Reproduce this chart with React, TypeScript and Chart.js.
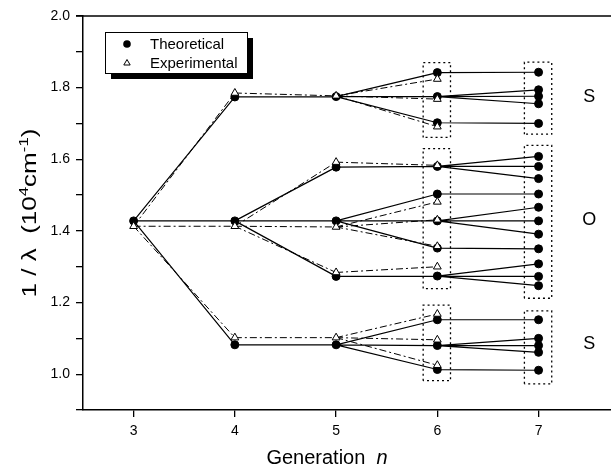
import React, { useEffect, useRef } from 'react';
import { Chart, registerables } from 'chart.js';
Chart.register(...registerables);

// ---- data ----
const xTickValues = [3, 4, 5, 6, 7];
const yTickValues = [0.9, 1.0, 1.1, 1.2, 1.3, 1.4, 1.5, 1.6, 1.7, 1.8, 1.9, 2.0];
const yLabelValues = [1.0, 1.2, 1.4, 1.6, 1.8, 2.0];

// Theoretical levels per generation and parent index in previous generation
const theo3 = [1.428];
const theo4 = [1.774, 1.428, 1.082];
const theo4Parent = [0, 0, 0];
const theo5 = [1.775, 1.578, 1.428, 1.273, 1.082];
const theo5Parent = [0, 1, 1, 1, 2];
const theo6 = [1.842, 1.775, 1.702, 1.580, 1.503, 1.428, 1.352, 1.274, 1.152, 1.080, 1.013];
const theo6Parent = [0, 0, 0, 1, 2, 2, 2, 3, 4, 4, 4];
const theo7 = [1.843, 1.794, 1.776, 1.755, 1.700, 1.608, 1.580, 1.546, 1.503, 1.466, 1.428, 1.391, 1.350, 1.308, 1.273, 1.247, 1.152, 1.100, 1.080, 1.061, 1.011];
const theo7Parent = [0, 1, 1, 1, 2, 3, 3, 3, 4, 5, 5, 5, 6, 7, 7, 7, 8, 9, 9, 9, 10];

// Experimental levels
const exp3 = [1.413];
const exp4 = [1.785, 1.413, 1.102];
const exp4Parent = [0, 0, 0];
const exp5 = [1.777, 1.592, 1.411, 1.284, 1.102];
const exp5Parent = [0, 1, 1, 1, 2];
const exp6 = [1.824, 1.768, 1.691, 1.583, 1.481, 1.431, 1.357, 1.300, 1.168, 1.096, 1.025];
const exp6Parent = [0, 0, 0, 1, 2, 2, 2, 3, 4, 4, 4];

// Dotted grouping boxes
const boxXMin = [5.86, 5.86, 5.86, 6.86, 6.86, 6.86];
const boxXMax = [6.13, 6.13, 6.13, 7.13, 7.13, 7.13];
const boxYMax = [1.870, 1.630, 1.193, 1.871, 1.639, 1.177];
const boxYMin = [1.661, 1.239, 0.982, 1.670, 1.212, 0.973];

// Group labels
const groupLabels = ['S', 'O', 'S'];
const groupLabelX = [7.5, 7.5, 7.5];
const groupLabelY = [1.775, 1.43, 1.083];

const legendLabels = ['Theoretical', 'Experimental'];

const FONT = "'Liberation Sans', Arial, Helvetica, sans-serif";

type P = { x: number; y: number | null };

function edges(xFrom: number, from: number[], xTo: number, to: number[], parents: number[]): P[] {
  const pts: P[] = [];
  to.forEach((v, i) => {
    pts.push({ x: xFrom, y: from[parents[i]] }, { x: xTo, y: v }, { x: xTo, y: null });
  });
  return pts;
}

function nodes(levels: number[][], xs: number[]): P[] {
  const pts: P[] = [];
  levels.forEach((arr, k) => arr.forEach((v) => pts.push({ x: xs[k], y: v })));
  return pts;
}

function boxes(): P[] {
  const pts: P[] = [];
  boxXMin.forEach((x0, i) => {
    const x1 = boxXMax[i];
    const y0 = boxYMin[i];
    const y1 = boxYMax[i];
    pts.push({ x: x0, y: y0 }, { x: x0, y: y1 }, { x: x1, y: y1 }, { x: x1, y: y0 }, { x: x0, y: y0 }, { x: x1, y: null });
  });
  return pts;
}

const decorPlugin = {
  id: 'decor',
  afterDraw(chart: any) {
    const ctx = chart.ctx as CanvasRenderingContext2D;
    const ca = chart.chartArea;
    const xs = chart.scales.x;
    const ys = chart.scales.y;
    ctx.save();
    // top frame line
    ctx.strokeStyle = '#000';
    ctx.lineWidth = 1.5;
    ctx.beginPath();
    ctx.moveTo(ca.left - 7, ca.top);
    ctx.lineTo(ca.right + 10, ca.top);
    ctx.stroke();

    // group labels
    ctx.fillStyle = '#000';
    ctx.font = `18px ${FONT}`;
    ctx.textAlign = 'center';
    ctx.textBaseline = 'middle';
    groupLabels.forEach((t, i) => {
      ctx.fillText(t, xs.getPixelForValue(groupLabelX[i]), ys.getPixelForValue(groupLabelY[i]));
    });

    // legend
    const lx = ca.left + 22;
    const ly = ca.top + 16;
    const lw = 142;
    const lh = 41;
    ctx.fillStyle = '#000';
    ctx.fillRect(lx + 6, ly + 6, lw, lh);
    ctx.fillStyle = '#fff';
    ctx.fillRect(lx, ly, lw, lh);
    ctx.strokeStyle = '#000';
    ctx.lineWidth = 1;
    ctx.strokeRect(lx + 0.5, ly + 0.5, lw, lh);
    const mx = lx + 22;
    const r1 = ly + 12;
    const r2 = ly + 31;
    ctx.fillStyle = '#000';
    ctx.beginPath();
    ctx.arc(mx, r1, 3.8, 0, Math.PI * 2);
    ctx.fill();
    ctx.beginPath();
    ctx.moveTo(mx, r2 - 3.5);
    ctx.lineTo(mx + 3.2, r2 + 2);
    ctx.lineTo(mx - 3.2, r2 + 2);
    ctx.closePath();
    ctx.lineWidth = 1;
    ctx.stroke();
    ctx.fillStyle = '#000';
    ctx.font = `15px ${FONT}`;
    ctx.textAlign = 'left';
    ctx.textBaseline = 'middle';
    ctx.fillText(legendLabels[0], lx + 45, r1 + 1);
    ctx.fillText(legendLabels[1], lx + 45, r2 + 1);

    // x title
    ctx.font = `20px ${FONT}`;
    const t1 = 'Generation  ';
    const w1 = ctx.measureText(t1).width;
    ctx.font = `italic 20px ${FONT}`;
    const w2 = ctx.measureText('n').width;
    const cx = 327;
    let sx = cx - (w1 + w2) / 2;
    ctx.textBaseline = 'alphabetic';
    ctx.textAlign = 'left';
    ctx.font = `20px ${FONT}`;
    ctx.fillText(t1, sx, 464);
    ctx.font = `italic 20px ${FONT}`;
    ctx.fillText('n', sx + w1, 464);

    // y title (rotated, with superscripts)
    const parts: [string, boolean][] = [['1 / \u03bb  (10', false], ['4', true], ['cm', false], ['-1', true], [')', false]];
    const mainF = `20px ${FONT}`;
    const supF = `13px ${FONT}`;
    let total = 0;
    parts.forEach(([t, s]) => {
      ctx.font = s ? supF : mainF;
      total += ctx.measureText(t).width;
    });
    const stretch = 1.3;
    ctx.translate(36, (ca.top + ca.bottom) / 2);
    ctx.rotate(-Math.PI / 2);
    ctx.scale(stretch, 1);
    let px = -total / 2;
    parts.forEach(([t, s]) => {
      ctx.font = s ? supF : mainF;
      ctx.fillText(t, px, s ? -8 : 0);
      px += ctx.measureText(t).width;
    });
    ctx.restore();
  },
};

export default function App() {
  const ref = useRef<HTMLCanvasElement>(null);
  useEffect(() => {
    document.body.style.margin = '0';
    document.body.style.overflow = 'hidden';
    const theoLines = [
      ...edges(3, theo3, 4, theo4, theo4Parent),
      ...edges(4, theo4, 5, theo5, theo5Parent),
      ...edges(5, theo5, 6, theo6, theo6Parent),
      ...edges(6, theo6, 7, theo7, theo7Parent),
    ];
    const expLines = [
      ...edges(3, exp3, 4, exp4, exp4Parent),
      ...edges(4, exp4, 5, exp5, exp5Parent),
      ...edges(5, exp5, 6, exp6, exp6Parent),
    ];
    const chart = new Chart(ref.current!, {
      type: 'scatter',
      data: {
        datasets: [
          {
            data: boxes() as any,
            showLine: true,
            borderColor: '#000',
            borderWidth: 1.3,
            borderDash: [2, 3],
            pointRadius: 0,
            spanGaps: false,
            order: 6,
          },
          {
            data: theoLines as any,
            showLine: true,
            borderColor: '#000',
            borderWidth: 1.2,
            pointRadius: 0,
            spanGaps: false,
            order: 5,
          },
          {
            data: expLines as any,
            showLine: true,
            borderColor: '#000',
            borderWidth: 1,
            borderDash: [7, 3, 2, 3],
            pointRadius: 0,
            spanGaps: false,
            order: 4,
          },
          {
            data: nodes([theo3, theo4, theo5, theo6, theo7], [3, 4, 5, 6, 7]) as any,
            showLine: false,
            pointStyle: 'circle',
            pointRadius: 4,
            pointBackgroundColor: '#000',
            pointBorderColor: '#000',
            pointBorderWidth: 1,
            order: 2,
          },
          {
            data: nodes([exp3, exp4, exp5, exp6], [3, 4, 5, 6]) as any,
            showLine: false,
            pointStyle: 'triangle',
            pointRadius: 4.5,
            pointBackgroundColor: '#fff',
            pointBorderColor: '#000',
            pointBorderWidth: 1,
            order: 1,
          },
        ],
      },
      options: {
        responsive: false,
        animation: false,
        devicePixelRatio: 1,
        events: [],
        layout: { padding: { top: 16, right: 2, left: 0, bottom: 0 } },
        plugins: { legend: { display: false }, tooltip: { enabled: false } },
        scales: {
          x: {
            type: 'linear',
            min: 2.5,
            max: 7.75,
            afterFit: (s: any) => { s.height = 58; },
            afterBuildTicks: (s: any) => { s.ticks = xTickValues.map((v) => ({ value: v })); },
            ticks: { color: '#000', font: { family: FONT, size: 14 }, padding: 6, callback: (v: any) => String(v) },
            grid: { display: true, drawOnChartArea: false, drawTicks: true, tickLength: 7, color: '#000', lineWidth: 1.3 },
            border: { display: true, color: '#000', width: 1.5 },
          },
          y: {
            type: 'linear',
            min: 0.9,
            max: 2.0,
            afterFit: (s: any) => { s.width = 83; },
            afterBuildTicks: (s: any) => { s.ticks = yTickValues.map((v) => ({ value: v })); },
            ticks: {
              color: '#000',
              font: { family: FONT, size: 14 },
              padding: 6,
              callback: (v: any) => (yLabelValues.some((l) => Math.abs(l - Number(v)) < 1e-6) ? Number(v).toFixed(1) : ''),
            },
            grid: { display: true, drawOnChartArea: false, drawTicks: true, tickLength: 7, color: '#000', lineWidth: 1.3 },
            border: { display: true, color: '#000', width: 1.5 },
          },
        },
      },
      plugins: [decorPlugin],
    } as any);
    return () => chart.destroy();
  }, []);
  return (
    <div style={{ width: 620, height: 468, overflow: 'hidden' }}>
      <canvas ref={ref} width={620} height={468} style={{ display: 'block' }} />
    </div>
  );
}
